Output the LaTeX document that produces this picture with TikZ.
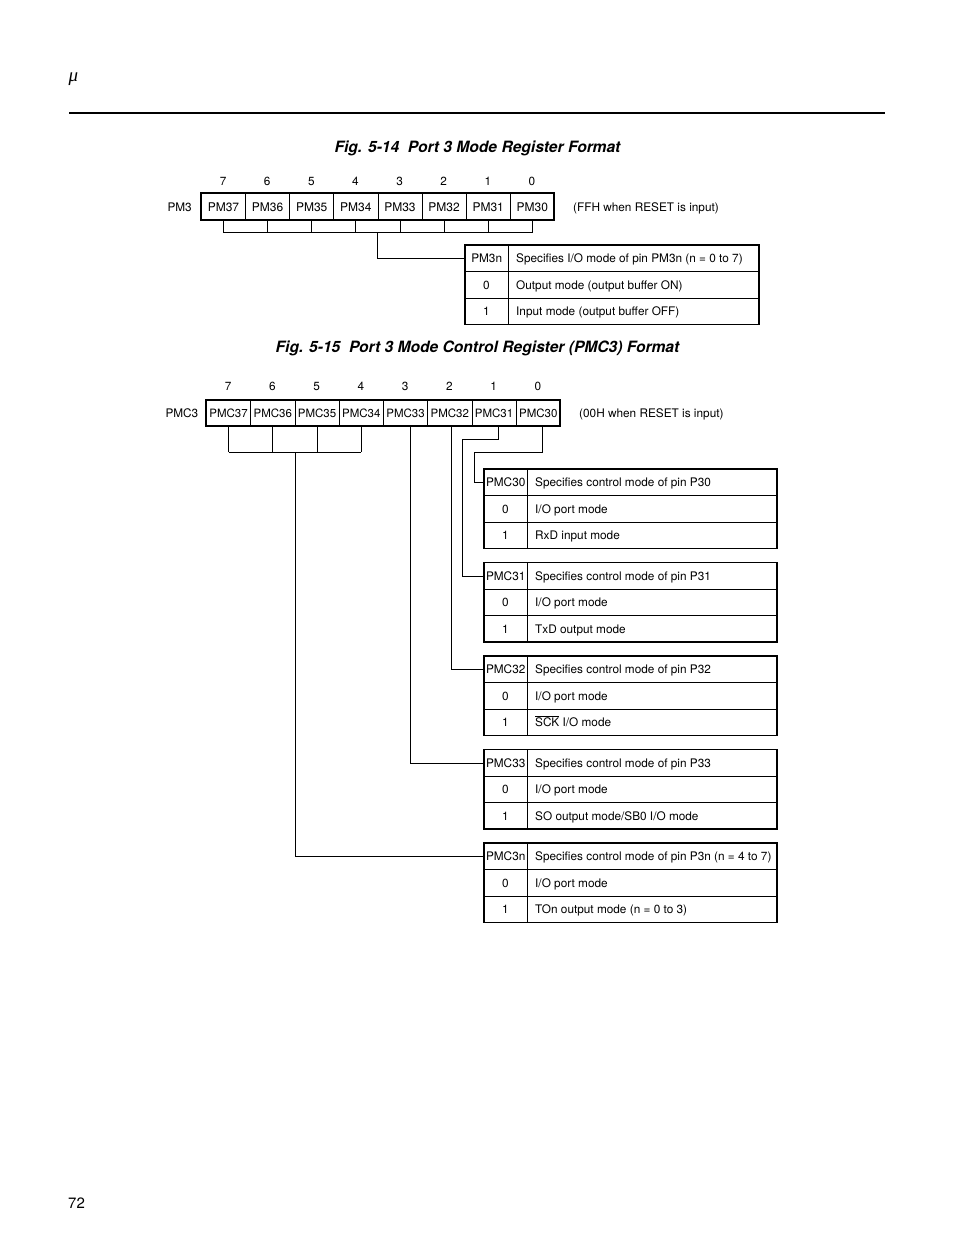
\documentclass[tikz,border=0pt]{standalone}
\usepackage{fontspec}
\setmainfont{TeX Gyre Heros}
\newfontfamily\muserif{Liberation Serif}
\usetikzlibrary{calc}
\tikzset{
  txt/.style={font=\fontsize{11.8}{13}\selectfont, inner sep=0pt},
  ttl/.style={font=\fontsize{15.6}{18}\selectfont\bfseries\itshape, inner sep=0pt},
  pmcell/.style={draw, line width=0.8pt, minimum width=44.125pt, minimum height=27pt, inner sep=0pt, anchor=north west, font=\fontsize{12}{13}\selectfont},
  pmccell/.style={draw, line width=0.8pt, minimum width=44.25pt, minimum height=26pt, inner sep=0pt, anchor=north west, font=\fontsize{11.5}{13}\selectfont},
  regouter/.style={line width=2.2pt},
  touter/.style={line width=1.8pt},
  tinner/.style={line width=1pt},
  conn/.style={line width=0.9pt},
  hcell/.style={minimum height=26.5pt, inner sep=0pt, anchor=north west, txt},
}
% name, x0, y0, x1, xc, label, t0, t1, t2
\newcommand\bittab[9]{%
  \node[hcell, minimum width={(#5-#2)*1pt}] (#1) at (#2,#3) {#6};
  \draw[tinner] (#5,#3) -- (#5,#3+79.5)
     (#2,#3+26.5) -- (#4,#3+26.5)
     (#2,#3+53) -- (#4,#3+53);
  \draw[touter] (#2,#3) rectangle (#4,#3+79.5);
  \node[txt, anchor=base west] (#1-a) at (#5+8,#3+17.5) {#7};
  \node[txt, anchor=base] (#1-b0) at ({(#2+#5)/2},#3+44) {0};
  \node[txt, anchor=base west] (#1-b) at (#5+8,#3+44) {#8};
  \node[txt, anchor=base] (#1-c0) at ({(#2+#5)/2},#3+70.5) {1};
  \node[txt, anchor=base west] (#1-c) at (#5+8,#3+70.5) {#9};
}
\begin{document}
\begin{tikzpicture}[x=1pt,y=-1pt]
\useasboundingbox (0,0) rectangle (954,1235);
% header
\node[inner sep=0pt, font=\muserif\itshape\fontsize{19}{21}\selectfont] (mu) at (73.5,79) {μ};
\draw[line width=2.2pt] (69,113) -- (885,113);
\node[inner sep=0pt, font=\fontsize{15}{17}\selectfont, anchor=base west] (pg) at (68,1208) {72};

% ---------- Fig 5-14 ----------
\node[ttl] (title1) at (477.5,148) {Fig. 5-14\ \ Port 3 Mode Register Format};
\foreach \i/\n in {0/7,1/6,2/5,3/4,4/3,5/2,6/1,7/0} {
  \node[pmcell] (a\n) at ({201+\i*44.125},193) {PM3\n};
  \node[txt, anchor=base] (ab\n) at ({201+(\i+0.5)*44.125},185) {\n};
}
\draw[regouter] (201,193) rectangle (554,220);
\node[txt, anchor=base east] (pm3) at (192,211.5) {PM3};
\node[txt, anchor=base west] (ffh) at (573,211.5) {(FFH when RESET is input)};
\coordinate (busA) at (0,232.5);
\foreach \n in {7,6,5,4,3,2,1,0} \draw[conn] (a\n.south) -- (a\n.south |- busA);
\draw[conn] (a7.south |- busA) -- (a0.south |- busA);
\coordinate (dropA) at (377,232.5);
\bittab{tpm}{465}{245}{759}{508}{PM3n}{Specifies I/O mode of pin PM3n (n = 0 to 7)}{Output mode (output buffer ON)}{Input mode (output buffer OFF)}
\draw[conn] (dropA) |- (tpm.west);

% ---------- Fig 5-15 ----------
\node[ttl] (title2) at (477.5,348) {Fig. 5-15\ \ Port 3 Mode Control Register (PMC3) Format};
\foreach \i/\n in {0/7,1/6,2/5,3/4,4/3,5/2,6/1,7/0} {
  \node[pmccell] (b\n) at ({206+\i*44.25},400) {PMC3\n};
  \node[txt, anchor=base] (bb\n) at ({206+(\i+0.5)*44.25},390.5) {\n};
}
\draw[regouter] (206,400) rectangle (560,426);
\node[txt, anchor=base east] (pmc3) at (198.5,417) {PMC3};
\node[txt, anchor=base west] (ooh) at (579,417) {(00H when RESET is input)};

\bittab{t30}{484}{469}{777}{527}{PMC30}{Specifies control mode of pin P30}{I/O port mode}{RxD input mode}
\bittab{t31}{484}{562.5}{777}{527}{PMC31}{Specifies control mode of pin P31}{I/O port mode}{TxD output mode}
\bittab{t32}{484}{656}{777}{527}{PMC32}{Specifies control mode of pin P32}{I/O port mode}{$\overline{\mbox{SCK}}$ I/O mode}
\bittab{t33}{484}{749.5}{777}{527}{PMC33}{Specifies control mode of pin P33}{I/O port mode}{SO output mode/SB0 I/O mode}
\bittab{t3n}{484}{843}{777}{527}{PMC3n}{Specifies control mode of pin P3n (n = 4 to 7)}{I/O port mode}{TOn output mode (n = 0 to 3)}

% connectors
\coordinate (busB) at (0,452);
\foreach \n in {7,6,5,4} \draw[conn] (b\n.south) -- (b\n.south |- busB);
\draw[conn] (b7.south |- busB) -- (b4.south |- busB);
\coordinate (dropB) at (295,452);
\draw[conn] (dropB) |- (t3n.west);
\draw[conn] ($(b3.south)+(5,0)$) |- (t33.west);
\draw[conn] ($(b2.south)+(1.5,0)$) |- (t32.west);
\coordinate (k31) at (462,439);
\draw[conn] ($(b1.south)+(4.5,0)$) |- (k31) |- (t31.west);
\coordinate (k30) at (474,452);
\draw[conn] ($(b0.south)+(4,0)$) |- (k30) |- (t30.west);
\end{tikzpicture}
\end{document}
